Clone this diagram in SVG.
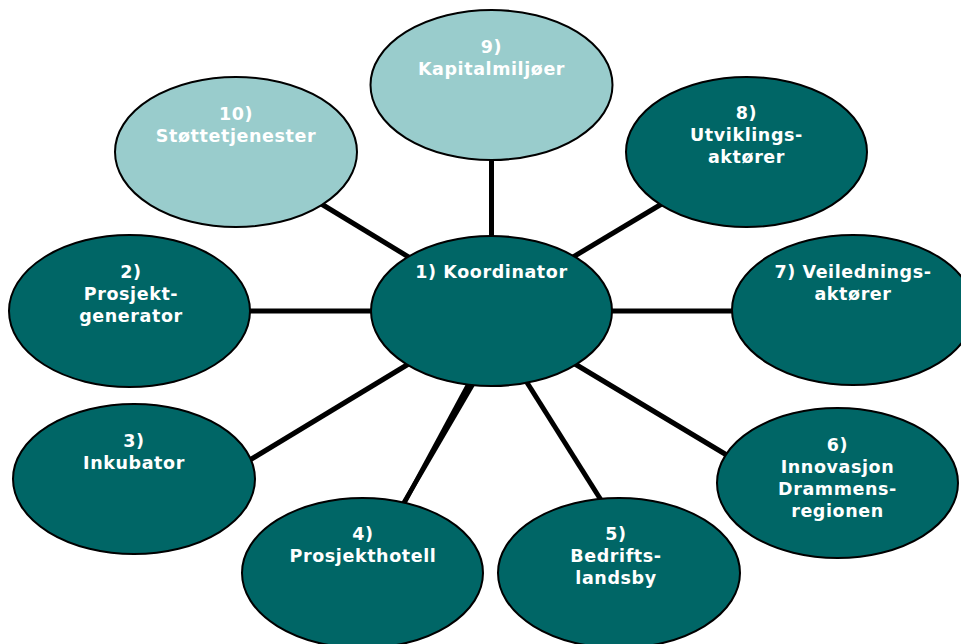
<svg xmlns="http://www.w3.org/2000/svg" width="961" height="644" viewBox="0 0 961 644">
<style>
.dk{fill:#006666;stroke:#000;stroke-width:2}
.lt{fill:#99CCCC;stroke:#000;stroke-width:2}
.t{font-family:"DejaVu Sans",Verdana,sans-serif;font-weight:bold;font-size:17.5px;fill:#fff;text-anchor:middle;letter-spacing:0.6px}
#connectors line{stroke:#000;stroke-width:5}
</style>
<rect width="961" height="644" fill="#fff"/>
<g id="connectors">
<line x1="491.5" y1="150" x2="491.5" y2="245"/>
<line x1="300" y1="191" x2="430" y2="270"/>
<line x1="680" y1="193" x2="553" y2="269"/>
<line x1="240" y1="311" x2="380" y2="311"/>
<line x1="600" y1="311" x2="745" y2="311"/>
<line x1="235" y1="469" x2="425" y2="354"/>
<line x1="480" y1="372" x2="399" y2="511" style="stroke-width:4.5"/>
<line x1="475" y1="372" x2="400" y2="511" style="stroke-width:4.5"/>
<line x1="521" y1="373" x2="606" y2="508"/>
<line x1="560" y1="355" x2="745" y2="466"/>
</g>
<g id="node9"><ellipse class="lt" cx="491.5" cy="85" rx="121" ry="75"/>
<text class="t" x="491.5" y="53">9)</text><text class="t" x="491.5" y="75">Kapitalmiljøer</text></g>
<g id="node10"><ellipse class="lt" cx="236" cy="152" rx="121" ry="75"/>
<text class="t" x="236" y="120">10)</text><text class="t" x="236" y="142">Støttetjenester</text></g>
<g id="node8"><ellipse class="dk" cx="746.5" cy="152" rx="120.5" ry="75"/>
<text class="t" x="746.5" y="119">8)</text><text class="t" x="746.5" y="141">Utviklings-</text><text class="t" x="746.5" y="163">aktører</text></g>
<g id="node1"><ellipse class="dk" cx="491.5" cy="311" rx="120.5" ry="75"/>
<text class="t" x="491.5" y="278">1) Koordinator</text></g>
<g id="node2"><ellipse class="dk" cx="129.5" cy="311" rx="120.5" ry="76"/>
<text class="t" x="131" y="278">2)</text><text class="t" x="131" y="300">Prosjekt-</text><text class="t" x="131" y="322">generator</text></g>
<g id="node7"><ellipse class="dk" cx="853" cy="310" rx="121" ry="75"/>
<text class="t" x="853" y="278">7) Veilednings-</text><text class="t" x="853" y="300">aktører</text></g>
<g id="node3"><ellipse class="dk" cx="134" cy="479" rx="121" ry="75"/>
<text class="t" x="134" y="447">3)</text><text class="t" x="134" y="469">Inkubator</text></g>
<g id="node6"><ellipse class="dk" cx="837.5" cy="483" rx="120.5" ry="75"/>
<text class="t" x="837.5" y="451">6)</text><text class="t" x="837.5" y="473">Innovasjon</text><text class="t" x="837.5" y="495">Drammens-</text><text class="t" x="837.5" y="517">regionen</text></g>
<g id="node4"><ellipse class="dk" cx="362.5" cy="573" rx="120.5" ry="75"/>
<text class="t" x="363" y="540">4)</text><text class="t" x="363" y="562">Prosjekthotell</text></g>
<g id="node5"><ellipse class="dk" cx="619" cy="573" rx="121" ry="75"/>
<text class="t" x="616" y="540">5)</text><text class="t" x="616" y="562">Bedrifts-</text><text class="t" x="616" y="584">landsby</text></g>
</svg>
